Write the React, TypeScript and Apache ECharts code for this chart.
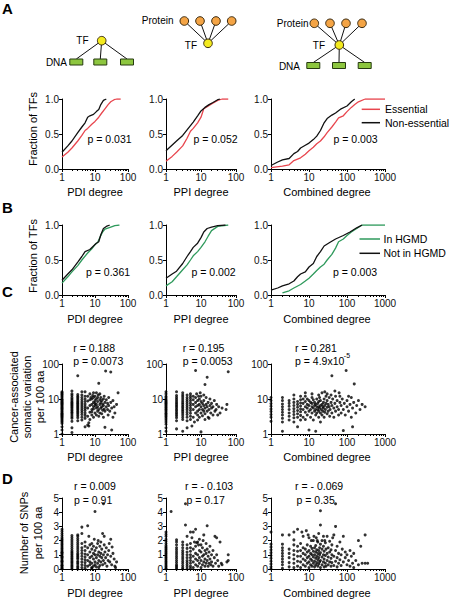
import React, { useEffect, useRef } from "react";
import * as echarts from "echarts";

const FONT = '"Liberation Sans", Arial, Helvetica, sans-serif';
const RED = "#e8464e";
const GREEN = "#2f9a5c";
const BLACK = "#111111";

// ---------- Panel A: CDFs (degree, fraction of TFs) ----------
const aPdiEssential = [[1,0.17],[1.5,0.24],[2,0.30],[3,0.40],[4,0.48],[5,0.55],[6,0.58],[8,0.64],[10,0.68],[13,0.74],[16,0.80],[20,0.86],[25,0.92],[30,0.96],[38,0.99],[45,1.0],[60,1.0]];
const aPdiNonEssential = [[1,0.24],[1.5,0.33],[2,0.40],[3,0.52],[4,0.60],[5,0.66],[6,0.74],[7,0.76],[9,0.78],[11,0.82],[13,0.85],[15,0.92],[18,0.98],[22,1.0]];
const aPpiEssential = [[1,0.11],[1.5,0.18],[2,0.24],[3,0.33],[4,0.44],[5,0.54],[6,0.58],[8,0.66],[10,0.74],[12,0.86],[15,0.89],[20,0.93],[30,0.98],[40,1.0],[60,1.0]];
const aPpiNonEssential = [[1,0.26],[2,0.40],[3,0.48],[4,0.56],[6,0.67],[8,0.76],[10,0.83],[13,0.88],[17,0.92],[22,0.95],[30,0.99],[35,1.0]];
const aCombEssential = [[1,0.02],[2,0.04],[3,0.06],[4,0.12],[6,0.16],[8,0.21],[10,0.26],[13,0.31],[16,0.36],[20,0.40],[25,0.46],[30,0.52],[40,0.60],[50,0.67],[60,0.73],[80,0.76],[100,0.82],[130,0.88],[160,0.92],[200,0.96],[300,1.0],[1000,1.0]];
const aCombNonEssential = [[1,0.05],[1.5,0.10],[2,0.13],[3,0.15],[4,0.22],[5,0.25],[6,0.30],[8,0.34],[10,0.37],[13,0.42],[16,0.47],[20,0.55],[25,0.66],[30,0.72],[40,0.77],[50,0.80],[70,0.86],[100,0.90],[130,0.96],[160,1.0]];

// ---------- Panel B: CDFs ----------
const bPdiHgmd = [[1,0.17],[1.5,0.26],[2,0.33],[3,0.42],[4,0.50],[6,0.60],[8,0.66],[10,0.72],[12,0.75],[14,0.82],[17,0.90],[20,0.94],[30,0.97],[40,0.99],[55,1.0]];
const bPdiNotHgmd = [[1,0.21],[1.5,0.30],[2,0.36],[3,0.47],[4,0.55],[5,0.62],[7,0.65],[9,0.70],[11,0.74],[13,0.76],[15,0.86],[18,0.95],[22,0.98],[28,1.0]];
const bPpiHgmd = [[1,0.13],[1.5,0.19],[2,0.26],[3,0.36],[4,0.43],[5,0.50],[6,0.56],[8,0.62],[10,0.68],[13,0.76],[16,0.84],[20,0.92],[30,0.98],[60,1.0]];
const bPpiNotHgmd = [[1,0.24],[1.5,0.30],[2,0.34],[3,0.45],[4,0.55],[5,0.62],[6,0.68],[8,0.74],[10,0.82],[12,0.90],[15,0.95],[20,0.97],[30,0.99],[50,1.0]];
const bCombHgmd = [[2,0.03],[3,0.06],[4,0.10],[6,0.15],[8,0.20],[10,0.24],[13,0.30],[16,0.35],[20,0.40],[25,0.44],[30,0.50],[40,0.58],[50,0.67],[60,0.76],[80,0.80],[100,0.85],[130,0.90],[180,0.95],[250,1.0],[1000,1.0]];
const bCombNotHgmd = [[1,0.07],[1.5,0.10],[2,0.13],[3,0.16],[4,0.20],[5,0.26],[6,0.30],[8,0.33],[10,0.40],[13,0.45],[16,0.55],[20,0.62],[25,0.70],[35,0.75],[50,0.80],[80,0.85],[120,0.90],[180,0.96],[250,1.0]];

// ---------- Panel C: cancer-associated somatic variation per 100 aa ----------
const cPdiDeg1 = [1.0,1.3,1.6,2.0,2.2,2.4,2.6,2.8,3.0,3.2,3.4,3.6,3.8,4.0,4.3,4.6,5.0,5.3,5.6,6.0,6.4,6.8,7.2,7.6,8.0,8.5,9.0,9.5,10,11,12,13,14,15,16];
const cPdiDeg2 = [1.1,1.5,2.3,2.8,3.1,3.5,3.9,4.2,4.6,5.0,5.5,6.0,6.5,7.0,7.6,8.2,9.0,10,11,12.5,14,17];
const cPdiDeg3 = [2.4,2.9,3.3,3.7,4.1,4.5,5.0,5.4,5.9,6.4,7.0,7.6,8.3,9.1,10,11,12,13.5,46];
const cPdiDeg4 = [2.5,3.0,3.6,4.2,4.8,5.5,6.3,7.2,8.2,9.5,11,13,16];
const cPdiDeg5 = [1.6,2.8,3.4,4.0,4.7,5.4,6.2,7.2,8.5,10,12,16];
const cPdiCloud = [[6,3.2],[6,5.5],[6,8.8],[6,12],[6,1.8],[7,2.6],[7,4.2],[7,6.5],[7,9.5],[7,14],[8,3.5],[8,5],[8,7],[8,10],[8,4.3],[9,3],[9,6],[9,8],[9,11],[9,5.2],[10,4],[10,6.5],[10,9],[10,7.5],[10,12],[11,3.5],[11,5.5],[11,7],[11,10],[12,4.5],[12,6],[12,8.5],[12,11],[13,28],[13,5],[13,3.2],[14,7],[14,9.5],[14,4],[15,5.5],[15,8],[15,11],[16,6],[16,3.8],[16,9],[17,4.8],[17,7.2],[18,6.5],[18,10],[18,3],[19,5.2],[20,8],[20,4.5],[21,63],[20,1.55],[22,6],[22,9.5],[24,5],[24,7.5],[25,3.5],[26,6.5],[28,4.5],[30,59],[30,8],[32,1.3],[32,5.5],[35,3],[38,6],[40,4],[45,7],[50,15],[6.5,2.1],[6.5,1.7],[9,15],[11,15],[14,14],[7.5,11],[8.5,12.5],[12.5,13],[19,12],[26,11],[35,9]];

const cPpiDeg1 = [1.2,1.5,1.9,2.2,2.5,2.8,3.1,3.4,3.7,4.0,4.4,4.8,5.2,5.6,6.0,6.5,7.0,7.5,8.0,8.6,9.2,10,11,12,14,16];
const cPpiDeg2 = [1.4,2.4,2.9,3.3,3.7,4.1,4.6,5.1,5.7,6.3,7.0,7.8,8.7,9.8,11,12.5,16];
const cPpiDeg3 = [1.2,2.6,3.0,3.5,4.0,4.5,5.0,5.6,6.2,7.0,7.8,8.8,10,11.5,13,15];
const cPpiDeg4 = [1.5,2.4,3.0,3.6,4.2,4.9,5.6,6.4,7.3,8.4,9.6,11,13];
const cPpiDeg5 = [2.6,3.2,3.9,4.7,5.5,6.5,7.6,9,10.5,12,14];
const cPpiCloud = [[6,3],[6,5],[6,7],[6,9.5],[6,12],[7,65],[7,4],[7,6],[7,8],[7,11],[8,2.5],[8,4.5],[8,6.5],[8,9],[8,3.5],[9,5],[9,7],[9,10],[9,3],[10,1.15],[10,4],[10,6],[10,8.5],[10,12],[11,5],[11,7.5],[11,3.3],[12,4.5],[12,6.5],[12,9],[13,26],[13,5.5],[13,3.8],[14,7],[14,11],[15,42],[15,4.5],[15,6],[16,8],[16,3],[17,5],[18,6.5],[18,10],[19,4],[20,5.5],[20,7.5],[22,3.5],[22,6],[24,9],[25,4.5],[27,5],[28,7],[30,3.5],[32,6],[35,4],[40,5.5],[55,7],[52,5],[60,60],[6.5,2.2],[7.5,14],[9.5,15],[12,13],[8.5,12],[5.5,1.7],[13,2.6],[17,2.8]];

const cCombDeg1 = [2.3,3.0,3.6,4.4,5.2,6.2,7.4,9.0,11];
const cCombDeg2 = [1.2,2.2,2.8,3.5,4.2,5.0,6.0,7.2,9.0,11];
const cCombDeg3 = [2.5,3.2,4.0,5.0,6.2,7.5,9];
const cCombDeg4 = [2.2,2.9,3.6,4.4,5.3,6.5,8,10,13];
const cCombDeg5 = [1.6,3,3.8,4.7,5.8,7,8.5];
const cCombCloud = [[6,2.5],[6,3.4],[6,4.3],[6,5.2],[6,6.3],[6,7.7],[6,9.5],[6,12],[7,3],[7,5],[7,7.5],[7,10],[8,2.6],[8,4.2],[8,6],[8,8.5],[8,12],[9,3.5],[9,5.5],[9,7],[9,10],[10,1.3],[10,4.5],[10,6.5],[10,9],[11,3],[11,5],[11,8],[12,4],[12,6],[12,7.5],[12,11],[13,2.5],[13,5.5],[13,9.5],[14,4.5],[14,6.5],[14,8],[15,1.2],[15,3.5],[15,5],[15,7],[16,4],[16,6],[16,10],[17,5],[17,7.5],[18,3],[18,4.5],[18,6],[18,8.5],[19,5.5],[19,11],[20,2.2],[20,4],[20,6.5],[20,9],[21,5],[22,3.5],[22,7],[22,15],[23,4.5],[23,6],[24,5.5],[24,8],[25,3],[25,10],[26,4.2],[26,6.5],[27,5],[28,7.5],[28,12],[30,3.8],[30,5.8],[30,9],[32,4.5],[32,7],[34,6],[34,11],[35,3.2],[36,5],[38,8],[38,13],[40,46],[40,4],[40,6.5],[42,10],[45,5.5],[45,3],[48,7.5],[50,4.5],[50,12],[55,6],[55,9],[60,3.5],[60,5],[62,15],[65,8],[70,4],[70,6.5],[75,10],[80,1.25],[80,5],[85,7.5],[90,3.5],[95,65],[100,6],[100,9],[110,4.5],[120,7],[130,3],[130,11],[140,1.6],[140,5.5],[150,8],[155,27],[170,4],[180,6.5],[200,9],[220,5],[250,7],[300,6],[1100,58],[12,14],[18,13],[26,16],[30,14],[48,17],[65,12],[110,12],[8,15]];

// ---------- Panel D: SNPs per 100 aa ----------
const dPdiDeg1 = [0,0.05,0.1,0.2,0.25,0.3,0.4,0.5,0.55,0.6,0.7,0.8,0.85,0.9,1.0,1.1,1.15,1.2,1.3,1.4,1.5,1.6,1.7,1.8,1.9,2.0,2.1,2.2,2.35,2.5,2.65,2.8];
const dPdiDeg2 = [0,0.1,0.2,0.3,0.4,0.5,0.6,0.7,0.8,0.9,1.0,1.1,1.2,1.3,1.45,1.6,1.75,1.9,2.05,2.2,2.35];
const dPdiDeg3 = [0,0.1,0.2,0.35,0.45,0.55,0.7,0.8,0.9,1.0,1.1,1.25,1.4,1.55,1.7,1.85,2.0,2.15,2.3,2.4];
const dPdiDeg4 = [0.1,0.3,0.5,0.7,0.9,1.1,1.3,1.5,1.8,2.5,2.95];
const dPdiDeg5 = [0.05,0.25,0.45,0.65,0.85,1.05,1.3,1.6,1.9];
const dPdiCloud = [[6,0.2],[6,0.6],[6,1.0],[6,1.5],[6,3.05],[7,0.3],[7,0.8],[7,1.2],[7,1.7],[7,0.5],[8,0.1],[8,0.4],[8,0.9],[8,1.4],[8,1.8],[9,0.2],[9,0.7],[9,1.1],[9,1.6],[10,4.05],[10,0.3],[10,0.5],[10,1.0],[10,1.3],[11,0.15],[11,0.8],[11,1.5],[12,0.4],[12,1.0],[12,1.8],[13,0.6],[13,1.2],[14,0.25],[14,0.9],[14,1.6],[15,0.5],[15,1.1],[16,0.8],[16,1.4],[17,0.3],[17,2.5],[18,4.6],[18,1.0],[18,0.6],[19,2.3],[19,1.7],[20,0.4],[20,1.2],[21,0.8],[22,1.5],[23,0.2],[24,1.0],[25,0.6],[26,1.3],[28,0.5],[30,0.9],[30,2.1],[32,0.3],[35,1.1],[38,0.7],[40,0.2],[42,0.1],[45,0.5],[6.5,2.3],[9.5,2.1],[12.5,2.0],[15,1.9],[8,0.05],[13,0.1],[27,1.8],[33,1.55]];

const dPpiDeg1 = [0,0.05,0.15,0.25,0.35,0.45,0.55,0.65,0.75,0.85,0.95,1.05,1.15,1.25,1.35,1.45,1.55,1.65,1.8,1.95,2.1,2.3,2.45,2.6];
const dPpiDeg2 = [0,0.1,0.2,0.3,0.45,0.6,0.75,0.9,1.05,1.2,1.35,1.5,1.7,1.9,2.05];
const dPpiDeg3 = [0,0.1,0.25,0.4,0.55,0.7,0.85,1.0,1.15,1.3,1.5,1.7,1.9];
const dPpiDeg4 = [0,0.15,0.3,0.45,0.6,0.8,1.0,1.2,1.45,1.7,2.3];
const dPpiDeg5 = [0.05,0.2,0.4,0.6,0.8,1.0,1.25,1.5,1.8,2.6];
const dPpiCloud = [[1.4,4.05],[3.6,4.6],[3.6,3.1],[6,0.1],[6,0.5],[6,0.9],[6,1.4],[6,2.6],[7,0.3],[7,0.7],[7,1.1],[7,1.6],[7,2.8],[8,0.2],[8,0.6],[8,1.0],[8,1.9],[9,0.4],[9,0.8],[9,1.3],[9,2.1],[10,0.1],[10,0.6],[10,1.2],[10,1.7],[11,0.3],[11,0.9],[11,1.5],[12,0.5],[12,1.0],[12,2.4],[13,0.2],[13,0.7],[13,1.3],[14,0.4],[14,1.1],[14,1.8],[15,3.05],[15,0.6],[15,1.4],[16,0.2],[16,0.9],[17,1.2],[17,0.4],[18,0.7],[18,1.6],[19,0.3],[20,1.0],[20,0.5],[22,1.3],[22,0.2],[24,0.8],[25,2.3],[26,0.4],[28,2.2],[28,1.0],[30,0.6],[32,0.2],[35,1.9],[38,0.4],[40,0.3],[55,0.5],[60,0.6],[60,1.0],[6.5,1.9],[8.5,1.7],[11.5,2.0],[5.5,2.2],[7.5,1.85]];

const dCombDeg1 = [0,0.15,0.35,0.55,0.75,0.95,1.15,1.35,1.55,1.75,2.6];
const dCombDeg2 = [0.05,0.3,0.5,0.7,0.9,1.1,1.3,1.5,1.75,2.4];
const dCombDeg3 = [0.15,0.45,0.8,1.1,1.4,2.4];
const dCombDeg4 = [0.1,0.4,0.7,1.0,1.3,1.7,2.05,2.6];
const dCombDeg5 = [0.2,0.55,0.9,1.25,1.6,2.8];
const dCombCloud = [[6,0.1],[6,0.5],[6,0.9],[6,1.3],[6,1.8],[7,0.3],[7,0.7],[7,1.1],[7,1.5],[7,2.3],[8,0.2],[8,0.6],[8,1.0],[8,1.4],[9,0.4],[9,0.8],[9,1.2],[9,1.7],[10,0.1],[10,0.5],[10,0.9],[10,1.3],[10,2.2],[11,0.3],[11,0.7],[11,1.1],[11,1.6],[12,0.2],[12,0.6],[12,1.0],[12,1.45],[13,0.4],[13,0.85],[13,1.25],[13,2.0],[14,0.15],[14,0.55],[14,1.0],[14,1.5],[15,0.3],[15,0.75],[15,1.2],[15,1.65],[16,0.45],[16,0.9],[16,1.35],[17,0.2],[17,0.65],[17,1.1],[17,1.9],[18,0.35],[18,0.8],[18,1.3],[18,2.5],[19,0.5],[19,1.0],[19,1.5],[20,4.1],[20,3.1],[20,0.1],[20,0.6],[20,1.15],[20,1.75],[22,0.3],[22,0.85],[22,1.4],[22,2.0],[24,0.5],[24,1.0],[24,1.6],[25,0.15],[25,0.7],[25,1.25],[27,0.4],[27,0.95],[27,1.85],[28,0.2],[28,1.4],[30,0.6],[30,1.1],[30,2.3],[32,0.3],[32,0.85],[32,1.5],[35,0.5],[35,1.2],[35,1.95],[38,0.2],[38,0.75],[38,1.35],[40,0.45],[40,1.0],[40,1.7],[45,0.25],[45,0.9],[45,2.4],[50,4.6],[50,3.0],[50,0.55],[50,1.3],[55,0.15],[55,0.8],[55,1.6],[60,0.4],[60,1.1],[65,0.65],[65,1.9],[70,0.25],[70,1.0],[75,1.4],[80,0.5],[80,2.3],[90,0.8],[90,1.2],[100,0.3],[100,1.0],[110,0.6],[120,0.2],[120,1.3],[130,0.9],[140,0.4],[150,0.1],[150,1.1],[170,0.6],[200,2.0],[200,0.3],[230,1.6],[250,0.4],[300,2.4],[300,0.4],[350,0.4],[1300,0.5],[6.5,2.6],[8.5,2.7],[9.5,2.4],[11.5,2.0],[13.5,2.3],[15.5,2.2],[16.5,2.0],[24,2.3],[26,2.0],[42,2.2]];

// ---------- Text ----------
const xTitles = ["PDI degree", "PPI degree", "Combined degree"];
const aPValues = ["p = 0.031", "p = 0.052", "p = 0.003"];
const bPValues = ["p = 0.361", "p = 0.002", "p = 0.003"];
const cRValues = ["r = 0.188", "r = 0.195", "r = 0.281"];
const cPValues = ["p = 0.0073", "p = 0.0053", "p = 4.9x10"];
const dRValues = ["r = 0.009", "r = - 0.103", "r = - 0.069"];
const dPValues = ["p = 0.91", "p = 0.17", "p = 0.35"];
const aLegend = ["Essential", "Non-essential"];
const bLegend = ["In HGMD", "Not in HGMD"];

// layout
const COLS = [
  { left: 62, width: 66, max: 100 },
  { left: 166, width: 70, max: 100 },
  { left: 271, width: 114, max: 1000 },
];
const ROWS = [
  { top: 99, height: 70 },
  { top: 225, height: 70 },
  { top: 364, height: 70 },
  { top: 498, height: 71 },
];

const col = (d: number, ys: number[]) => ys.map((y) => [d, y]);

function txt(text: string, x: number, y: number, opts: any = {}) {
  const align = opts.align || "left";
  const valign = opts.valign || "middle";
  return {
    type: "text",
    x,
    y,
    rotation: opts.rotation || 0,
    z: 100,
    style: {
      text,
      x: 0,
      y: 0,
      fill: opts.color || "#000",
      fontSize: opts.size || 10.5,
      fontFamily: FONT,
      fontWeight: opts.weight || "normal",
      lineHeight: opts.lineHeight,
      align,
      verticalAlign: valign,
      textAlign: align,
      textVerticalAlign: valign,
    },
  };
}

function line(x1: number, y1: number, x2: number, y2: number, color = "#111", w = 1) {
  return { type: "line", shape: { x1, y1, x2, y2 }, style: { stroke: color, lineWidth: w }, z: 50 };
}
function node(cx: number, cy: number, fill: string) {
  return { type: "circle", shape: { cx, cy, r: 4.3 }, style: { fill, stroke: "#3a2a10", lineWidth: 1 }, z: 60 };
}
function box(cx: number, cy: number) {
  return { type: "rect", shape: { x: cx - 6.5, y: cy - 3, width: 13, height: 6 }, style: { fill: "#8dc63f", stroke: "#263a10", lineWidth: 1 }, z: 60 };
}

export default function App() {
  const ref = useRef<HTMLDivElement>(null);
  useEffect(() => {
    if (!ref.current) return;
    const chart = echarts.init(ref.current, undefined, { renderer: "svg" });

    const grid: any[] = [];
    const xAxis: any[] = [];
    const yAxis: any[] = [];
    const series: any[] = [];
    const axisLine = { show: true, onZero: false, lineStyle: { color: "#000", width: 1 } };
    const axisTick = { show: true, length: 3, lineStyle: { color: "#000", width: 1 } };
    const labelStyle = { fontSize: 10, fontFamily: FONT, color: "#111" };

    ROWS.forEach((row, r) => {
      COLS.forEach((c, ci) => {
        const i = r * 3 + ci;
        grid.push({ left: c.left, top: row.top, width: c.width, height: row.height });
        xAxis.push({
          type: "log",
          logBase: 10,
          gridIndex: i,
          min: 1,
          max: c.max,
          axisLine,
          axisTick,
          minorTick: { show: true, splitNumber: 9, length: 2, lineStyle: { color: "#000" } },
          splitLine: { show: false },
          minorSplitLine: { show: false },
          axisLabel: { ...labelStyle, margin: 3, formatter: (v: number) => String(Math.round(v)) },
        });
        let y: any;
        if (r < 2) {
          y = { type: "value", min: 0, max: 1, interval: 0.5, axisLabel: { ...labelStyle, margin: 3, formatter: (v: number) => v.toFixed(1) } };
        } else if (r === 2) {
          y = { type: "log", logBase: 10, min: 1, max: 100, axisLabel: { ...labelStyle, margin: 3, formatter: (v: number) => String(Math.round(v)) } };
        } else {
          y = { type: "value", min: 0, max: 5, interval: 1, axisLabel: { ...labelStyle, margin: 3 } };
        }
        yAxis.push({ ...y, gridIndex: i, axisLine, axisTick, splitLine: { show: false } });
      });
    });

    const lineSeries = (i: number, data: number[][], color: string) => ({
      type: "line",
      xAxisIndex: i,
      yAxisIndex: i,
      data,
      showSymbol: false,
      symbol: "none",
      lineStyle: { color, width: 1.3 },
      silent: true,
    });
    const scatterSeries = (i: number, data: number[][]) => ({
      type: "scatter",
      xAxisIndex: i,
      yAxisIndex: i,
      data,
      symbolSize: 3,
      itemStyle: { color: "#000" },
      silent: true,
    });

    series.push(lineSeries(0, aPdiEssential, RED), lineSeries(0, aPdiNonEssential, BLACK));
    series.push(lineSeries(1, aPpiEssential, RED), lineSeries(1, aPpiNonEssential, BLACK));
    series.push(lineSeries(2, aCombEssential, RED), lineSeries(2, aCombNonEssential, BLACK));
    series.push(lineSeries(3, bPdiHgmd, GREEN), lineSeries(3, bPdiNotHgmd, BLACK));
    series.push(lineSeries(4, bPpiHgmd, GREEN), lineSeries(4, bPpiNotHgmd, BLACK));
    series.push(lineSeries(5, bCombHgmd, GREEN), lineSeries(5, bCombNotHgmd, BLACK));

    series.push(scatterSeries(6, [...col(1, cPdiDeg1), ...col(2, cPdiDeg2), ...col(3, cPdiDeg3), ...col(4, cPdiDeg4), ...col(5, cPdiDeg5), ...cPdiCloud]));
    series.push(scatterSeries(7, [...col(1, cPpiDeg1), ...col(2, cPpiDeg2), ...col(3, cPpiDeg3), ...col(4, cPpiDeg4), ...col(5, cPpiDeg5), ...cPpiCloud]));
    series.push(scatterSeries(8, [...col(1, cCombDeg1), ...col(2, cCombDeg2), ...col(3, cCombDeg3), ...col(4, cCombDeg4), ...col(5, cCombDeg5), ...cCombCloud]));
    series.push(scatterSeries(9, [...col(1, dPdiDeg1), ...col(2, dPdiDeg2), ...col(3, dPdiDeg3), ...col(4, dPdiDeg4), ...col(5, dPdiDeg5), ...dPdiCloud]));
    series.push(scatterSeries(10, [...col(1, dPpiDeg1), ...col(2, dPpiDeg2), ...col(3, dPpiDeg3), ...col(4, dPpiDeg4), ...col(5, dPpiDeg5), ...dPpiCloud]));
    series.push(scatterSeries(11, [...col(1, dCombDeg1), ...col(2, dCombDeg2), ...col(3, dCombDeg3), ...col(4, dCombDeg4), ...col(5, dCombDeg5), ...dCombCloud]));

    const g: any[] = [];
    // panel letters
    g.push(txt("A", 2, 8, { size: 15, weight: "bold" }));
    g.push(txt("B", 2, 207, { size: 15, weight: "bold" }));
    g.push(txt("C", 2, 291, { size: 15, weight: "bold" }));
    g.push(txt("D", 2, 478, { size: 15, weight: "bold" }));

    // diagrams
    const Y = "#f3ea1e";
    const O = "#f4a445";
    // diagram 1
    const tf1 = [101.7, 40.7];
    [76.3, 100.3, 127].forEach((cx) => g.push(line(tf1[0], tf1[1], cx, 59)));
    [76.3, 100.3, 127].forEach((cx) => g.push(box(cx, 62)));
    g.push(node(tf1[0], tf1[1], Y));
    g.push(txt("TF", 88.5, 40.5, { size: 10, align: "right" }));
    g.push(txt("DNA", 67, 62, { size: 10, align: "right" }));
    // diagram 2
    const tf2 = [208, 43.3];
    [184.3, 200, 216, 231.7].forEach((cx) => g.push(line(tf2[0], tf2[1], cx, 21)));
    [184.3, 200, 216, 231.7].forEach((cx) => g.push(node(cx, 21, O)));
    g.push(node(tf2[0], tf2[1], Y));
    g.push(txt("Protein", 173.5, 20.5, { size: 10, align: "right" }));
    g.push(txt("TF", 197, 45, { size: 10, align: "right" }));
    // diagram 3
    const tf3 = [339.3, 45];
    [314.3, 330, 346, 362].forEach((cx) => g.push(line(tf3[0], tf3[1], cx, 23.3)));
    [313.3, 339, 364.7].forEach((cx) => g.push(line(tf3[0], tf3[1], cx, 62.5)));
    [314.3, 330, 346, 362].forEach((cx) => g.push(node(cx, 23.3, O)));
    [313.3, 339, 364.7].forEach((cx) => g.push(box(cx, 65.5)));
    g.push(node(tf3[0], tf3[1], Y));
    g.push(txt("Protein", 308.5, 23, { size: 10, align: "right" }));
    g.push(txt("TF", 325, 45, { size: 10, align: "right" }));
    g.push(txt("DNA", 300, 66, { size: 10, align: "right" }));

    // x axis titles
    const titleY = [192, 319, 457, 593];
    titleY.forEach((ty) => {
      COLS.forEach((c, ci) => {
        g.push(txt(xTitles[ci], c.left + c.width / 2 + (ci === 2 ? -1 : 0), ty, { size: 11, align: "center" }));
      });
    });

    // y axis titles
    g.push(txt("Fraction of TFs", 33, 129, { size: 11, align: "center", rotation: Math.PI / 2 }));
    g.push(txt("Fraction of TFs", 33, 256, { size: 11, align: "center", rotation: Math.PI / 2 }));
    g.push(txt("Cancer-associated\nsomatic variation\nper 100 aa", 27, 397, { size: 11, align: "center", rotation: Math.PI / 2, lineHeight: 13 }));
    g.push(txt("Number of SNPs\nper 100 aa", 31, 533, { size: 11, align: "center", rotation: Math.PI / 2, lineHeight: 14.5 }));

    // p-values A, B
    const aPx = [87.5, 193.5, 333.5];
    const bPx = [86, 191.5, 333];
    aPValues.forEach((t, i) => g.push(txt(t, aPx[i], 138.5)));
    bPValues.forEach((t, i) => g.push(txt(t, bPx[i], 272)));

    // r/p C, D
    const cx0 = [73.3, 182.7, 295];
    cRValues.forEach((t, i) => g.push(txt(t, cx0[i], 347.5)));
    cPValues.forEach((t, i) => g.push(txt(t, cx0[i], 361)));
    g.push(txt("-5", 343.8, 355.5, { size: 7 }));
    const dxr = [74, 185, 295];
    const dxp = [74, 186.5, 296.5];
    dRValues.forEach((t, i) => g.push(txt(t, dxr[i], 486)));
    dPValues.forEach((t, i) => g.push(txt(t, dxp[i], 499.5)));

    // legends
    g.push(line(361.7, 109.3, 380, 109.3, RED, 1.5));
    g.push(line(361.7, 122.7, 380, 122.7, BLACK, 1.5));
    g.push(txt(aLegend[0], 385, 109.3));
    g.push(txt(aLegend[1], 385, 122.7));
    g.push(line(359.5, 239, 380, 239, GREEN, 1.5));
    g.push(line(359.5, 253.3, 380, 253.3, BLACK, 1.5));
    g.push(txt(bLegend[0], 383.5, 239));
    g.push(txt(bLegend[1], 383.5, 253.3));

    chart.setOption({
      animation: false,
      backgroundColor: "#ffffff",
      grid,
      xAxis,
      yAxis,
      series,
      graphic: { elements: g },
    });
    return () => chart.dispose();
  }, []);

  return (
    <div
      ref={ref}
      style={{ position: "fixed", left: 0, top: 0, width: 449, height: 599, background: "#fff" }}
    />
  );
}
